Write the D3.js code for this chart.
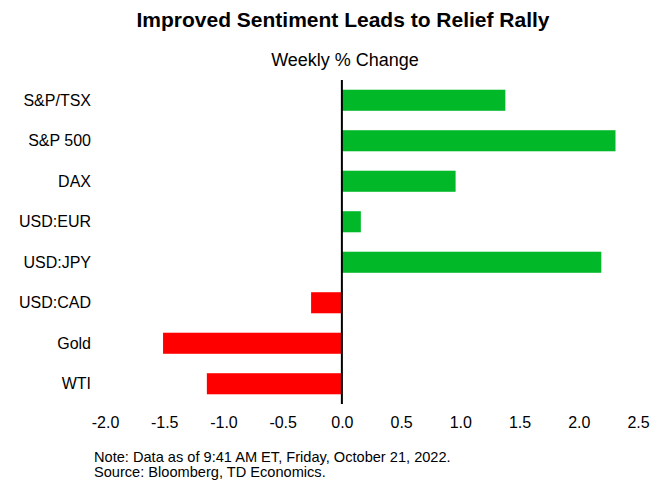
<!DOCTYPE html>
<html lang="en">
<head>
  <meta charset="UTF-8">
  <title>Improved Sentiment Leads to Relief Rally</title>
  <style>
    html, body {
      margin: 0;
      background: #ffffff;
    }
    svg text {
      font-family: Arial, "Liberation Sans", sans-serif;
      fill: #000;
    }
  </style>
</head>
<body>
  <svg id="chart" width="665" height="481"></svg>

  <script src="https://cdnjs.cloudflare.com/ajax/libs/d3/7.8.5/d3.min.js"></script>
  <script>
    // chart data
    const categories = ['S&P/TSX', 'S&P 500', 'DAX', 'USD:EUR', 'USD:JPY', 'USD:CAD', 'Gold', 'WTI'];
    const weeklyChange = [1.38, 2.31, 0.96, 0.16, 2.19, -0.26, -1.51, -1.14];
    const xTicks = [-2.0, -1.5, -1.0, -0.5, 0.0, 0.5, 1.0, 1.5, 2.0, 2.5];
    const noteLines = [
      'Note: Data as of 9:41 AM ET, Friday, October 21, 2022.',
      'Source: Bloomberg, TD Economics.'
    ];

    const svg = d3.select('#chart');
    const plot = { left: 105, right: 638, top: 80, bottom: 404 };

    const x = d3.scaleLinear()
      .domain([-2, 2.5])
      .range([plot.left, plot.right]);

    const y = d3.scaleBand()
      .domain(categories)
      .range([plot.top, plot.bottom])
      .paddingInner(0.48)
      .paddingOuter(0.24);

    const rows = categories.map((c, i) => ({ name: c, value: weeklyChange[i] }));

    // titles
    svg.append('text')
      .attr('x', 343)
      .attr('y', 27)
      .attr('text-anchor', 'middle')
      .style('font-size', '21px')
      .style('font-weight', 'bold')
      .text('Improved Sentiment Leads to Relief Rally');

    svg.append('text')
      .attr('x', 345)
      .attr('y', 66)
      .attr('text-anchor', 'middle')
      .style('font-size', '18px')
      .text('Weekly % Change');

    // bars
    svg.append('g')
      .selectAll('rect')
      .data(rows)
      .join('rect')
      .attr('x', d => x(Math.min(0, d.value)))
      .attr('y', d => y(d.name))
      .attr('width', d => Math.abs(x(d.value) - x(0)))
      .attr('height', y.bandwidth())
      .attr('fill', d => d.value >= 0 ? '#00b828' : '#ff0000');

    // zero line
    svg.append('line')
      .attr('x1', x(0))
      .attr('x2', x(0))
      .attr('y1', plot.top)
      .attr('y2', plot.bottom)
      .attr('stroke', '#000')
      .attr('stroke-width', 2);

    // category labels
    svg.append('g')
      .selectAll('text')
      .data(categories)
      .join('text')
      .attr('x', 91)
      .attr('y', d => y(d) + y.bandwidth() / 2)
      .attr('dy', '0.35em')
      .attr('text-anchor', 'end')
      .style('font-size', '16px')
      .text(d => d);

    // x tick labels (no axis line), plain hyphen for negatives
    const xAxis = svg.append('g')
      .attr('transform', `translate(0,${plot.bottom + 10})`)
      .call(d3.axisBottom(x).tickValues(xTicks).tickFormat(d => d.toFixed(1)).tickSize(0));
    xAxis.select('.domain').remove();
    xAxis.selectAll('text')
      .style('font-size', '16px')
      .style('font-family', 'Arial, "Liberation Sans", sans-serif')
      .attr('fill', '#000');

    // notes
    svg.append('g')
      .selectAll('text')
      .data(noteLines)
      .join('text')
      .attr('x', 94)
      .attr('y', (d, i) => 462 + i * 15)
      .style('font-size', '14.6px')
      .text(d => d);
  </script>
</body>
</html>
